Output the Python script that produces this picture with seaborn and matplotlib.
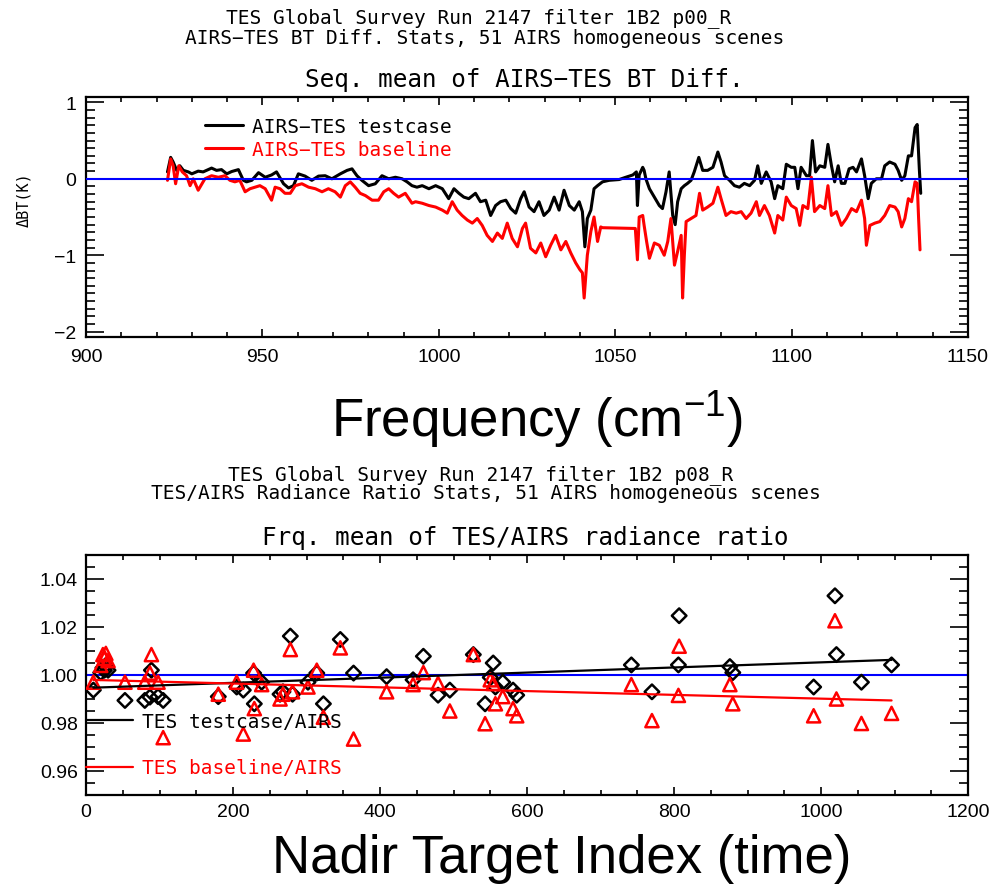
import matplotlib
matplotlib.use("Agg")
import matplotlib.pyplot as plt
from matplotlib.ticker import MultipleLocator, FormatStrFormatter
import numpy as np
import pandas as pd
import seaborn as sns

# ---------------- data: top panel (sequence mean of AIRS-TES BT diff) ----------------
freq_test = [923.1, 924.0, 924.7, 925.7, 926.6, 927.6, 929.0, 930.0, 931.8, 933.2,
             935.6, 937.0, 938.4, 939.9, 941.3, 943.2, 944.6, 945.5, 947.0, 948.9,
             950.8, 952.6, 954.0, 956.0, 957.4, 958.8, 960.2, 962.1, 964.0, 965.9,
             967.8, 969.7, 972.1, 974.0, 975.4, 976.8, 978.2, 980.1, 982.0, 983.9,
             985.8, 987.7, 989.6, 991.0, 992.4, 993.8, 995.3, 997.2, 999.1, 1001.0,
             1002.8, 1004.3, 1005.7, 1007.1, 1008.5, 1010.4, 1011.8, 1013.3, 1014.7, 1016.1,
             1017.5, 1019.0, 1020.4, 1021.8, 1023.2, 1024.2, 1025.6, 1027.0, 1028.4, 1029.8,
             1031.3, 1032.7, 1034.1, 1035.5, 1037.0, 1038.4, 1039.8, 1040.7, 1041.4, 1042.1,
             1043.1, 1044.0, 1045.0, 1046.4, 1048.3, 1051.1, 1053.0, 1055.0, 1056.0, 1056.3,
             1056.8, 1057.8, 1058.2, 1058.7, 1059.7, 1061.1, 1062.5, 1063.4, 1064.4, 1065.3,
             1066.3, 1067.0, 1067.7, 1068.7, 1069.6, 1070.5, 1071.5, 1072.4, 1073.7, 1074.8,
             1076.2, 1077.7, 1079.1, 1080.0, 1081.0, 1082.4, 1083.8, 1085.2, 1086.6, 1088.1,
             1089.5, 1090.4, 1091.4, 1092.8, 1094.2, 1095.2, 1096.1, 1097.5, 1098.5, 1099.9,
             1100.9, 1101.8, 1102.7, 1104.2, 1105.1, 1105.9, 1106.8, 1108.0, 1109.4, 1110.3,
             1111.3, 1112.2, 1113.2, 1114.1, 1115.1, 1116.3, 1117.4, 1118.4, 1119.8, 1120.7,
             1121.7, 1122.6, 1124.0, 1125.5, 1126.4, 1127.8, 1129.3, 1130.2, 1131.2, 1132.1,
             1133.1, 1134.0, 1135.0, 1135.6, 1136.2, 1136.6]
dbt_test = [0.09, 0.28, 0.22, 0.11, 0.17, 0.11, 0.09, 0.065, 0.10, 0.09,
            0.14, 0.11, 0.12, 0.065, 0.095, 0.12, -0.02, -0.04, -0.02, 0.08,
            0.02, 0.05, 0.09, -0.065, -0.12, -0.09, 0.065, 0.035, -0.02, 0.035,
            0.04, 0.0, 0.065, 0.11, 0.13, 0.04, -0.02, -0.09, -0.065, 0.04,
            0.0, 0.02, 0.0, -0.04, -0.09, -0.11, -0.09, -0.13, -0.09, -0.13,
            -0.26, -0.13, -0.19, -0.24, -0.26, -0.19, -0.30, -0.28, -0.48, -0.35,
            -0.30, -0.28, -0.39, -0.45, -0.26, -0.17, -0.37, -0.43, -0.30, -0.48,
            -0.41, -0.24, -0.41, -0.15, -0.35, -0.41, -0.30, -0.43, -0.89, -0.52,
            -0.41, -0.13, -0.09, -0.04, -0.02, -0.01, 0.02, 0.05, 0.09, -0.35,
            0.05, 0.15, 0.11, 0.0, -0.13, -0.24, -0.35, -0.39, -0.17, 0.09,
            -0.48, -0.60, -0.30, -0.13, -0.09, -0.06, -0.02, 0.09, 0.28, 0.11,
            0.11, 0.15, 0.35, 0.22, 0.04, -0.02, -0.09, -0.11, -0.06, -0.09,
            -0.02, 0.17, -0.06, 0.09, -0.04, -0.26, -0.09, -0.13, 0.19, 0.15,
            0.15, -0.13, 0.15, 0.04, 0.04, 0.50, 0.09, 0.17, 0.15, 0.45,
            0.17, -0.04, 0.17, -0.06, -0.06, 0.13, 0.15, 0.09, 0.26, 0.04,
            -0.26, -0.06, 0.0, 0.0, 0.17, 0.22, 0.19, 0.11, -0.02, 0.04,
            0.30, 0.30, 0.67, 0.71, 0.13, -0.19]

freq_base = [923.1, 924.0, 924.7, 925.4, 926.3, 927.3, 928.5, 929.5, 930.4, 931.8,
             933.7, 935.6, 937.5, 939.4, 940.8, 942.2, 943.6, 945.1, 946.5, 947.9,
             949.3, 950.8, 952.6, 953.6, 955.0, 956.4, 957.9, 959.3, 961.2, 963.1,
             965.0, 966.9, 968.7, 970.6, 972.1, 973.5, 974.9, 976.3, 977.7, 979.2,
             981.1, 982.9, 984.4, 985.8, 987.2, 988.6, 990.5, 992.4, 993.4, 995.3,
             997.2, 999.1, 1001.0, 1002.4, 1003.8, 1005.2, 1006.6, 1008.1, 1009.5, 1010.9,
             1012.3, 1013.7, 1015.2, 1016.6, 1018.0, 1019.4, 1020.8, 1022.3, 1023.7, 1024.6,
             1026.0, 1027.5, 1028.9, 1030.3, 1031.7, 1033.1, 1034.6, 1036.0, 1037.4, 1038.8,
             1040.0, 1040.7, 1041.2, 1042.1, 1043.1, 1044.0, 1045.0, 1045.9, 1046.4, 1055.7,
             1056.3, 1056.8, 1057.8, 1058.2, 1058.9, 1059.7, 1061.1, 1062.5, 1063.9, 1064.9,
             1065.8, 1066.8, 1067.7, 1068.7, 1069.1, 1069.6, 1070.1, 1071.5, 1072.9, 1073.9,
             1074.8, 1076.2, 1077.7, 1079.1, 1080.0, 1081.4, 1082.8, 1084.3, 1085.7, 1087.1,
             1088.5, 1090.0, 1090.9, 1092.3, 1093.7, 1095.2, 1096.1, 1097.5, 1098.5, 1099.9,
             1101.3, 1102.3, 1103.2, 1104.6, 1105.6, 1106.5, 1108.0, 1109.4, 1110.3, 1111.3,
             1112.7, 1114.1, 1115.5, 1117.0, 1118.4, 1119.8, 1120.7, 1121.2, 1122.2, 1123.6,
             1125.0, 1126.4, 1127.8, 1129.3, 1130.2, 1131.2, 1132.1, 1133.1, 1134.0, 1135.0,
             1135.6, 1136.0, 1136.4]
dbt_base = [-0.02, 0.26, 0.17, -0.065, 0.17, 0.09, 0.04, -0.09, 0.0, -0.15,
            0.0, 0.04, 0.02, 0.04, -0.02, -0.04, -0.02, -0.17, -0.13, -0.11,
            -0.09, -0.13, -0.28, -0.11, -0.13, -0.19, -0.19, -0.09, -0.065, -0.11,
            -0.13, -0.17, -0.13, -0.17, -0.24, -0.09, -0.04, -0.11, -0.19, -0.22,
            -0.28, -0.28, -0.17, -0.13, -0.19, -0.24, -0.19, -0.32, -0.30, -0.32,
            -0.35, -0.37, -0.41, -0.45, -0.30, -0.41, -0.48, -0.54, -0.58, -0.52,
            -0.61, -0.74, -0.82, -0.71, -0.78, -0.58, -0.78, -0.89, -0.65, -0.58,
            -0.91, -0.97, -0.84, -1.02, -0.87, -0.74, -0.93, -0.82, -0.97, -1.10,
            -1.19, -1.23, -1.56, -1.00, -0.69, -0.50, -0.82, -0.63, -0.64, -0.65,
            -1.06, -0.50, -0.48, -0.61, -0.82, -1.04, -0.84, -0.87, -1.00, -0.82,
            -0.52, -1.13, -0.95, -0.74, -1.56, -1.00, -0.56, -0.52, -0.48, -0.19,
            -0.41, -0.37, -0.32, -0.11, -0.26, -0.48, -0.43, -0.45, -0.43, -0.52,
            -0.45, -0.30, -0.48, -0.35, -0.48, -0.71, -0.48, -0.54, -0.24, -0.35,
            -0.39, -0.61, -0.35, -0.39, 0.02, -0.43, -0.35, -0.39, -0.09, -0.48,
            -0.43, -0.61, -0.52, -0.39, -0.43, -0.28, -0.52, -0.87, -0.61, -0.58,
            -0.56, -0.48, -0.35, -0.37, -0.43, -0.63, -0.52, -0.26, -0.30, -0.04,
            -0.06, -0.52, -0.93]

# ---------------- data: bottom panel (TES/AIRS radiance ratio per scene) ----------------
scene_idx = [10, 20, 23, 25, 27, 30, 53, 80, 87, 89,
             98, 105, 180, 205, 214, 228, 229, 239, 264, 268,
             278, 281, 302, 314, 323, 346, 364, 409, 445, 459,
             479, 495, 527, 543, 550, 554, 557, 567, 581, 586,
             742, 770, 806, 807, 876, 880, 990, 1019, 1021, 1055,
             1096]
ratio_test = [0.9937, 1.001, 1.003, 1.002, 1.004, 1.002, 0.9894, 0.9894, 0.9908, 1.002,
              0.991, 0.9894, 0.991, 0.995, 0.9937, 1.0008, 0.988, 0.997, 0.992, 0.993,
              1.0162, 0.992, 0.997, 1.0008, 0.988, 1.0148, 1.0008, 0.9993, 0.998, 1.0078,
              0.9916, 0.9937, 1.0085, 0.988, 0.999, 1.005, 0.995, 0.997, 0.9937, 0.9916,
              1.0042, 0.993, 1.0042, 1.0247, 1.0035, 1.001, 0.995, 1.033, 1.0085, 0.997,
              1.0042]
ratio_base = [0.997, 1.004, 1.0085, 1.007, 1.009, 1.006, 0.997, 0.997, 1.0008, 1.0085,
              0.997, 0.9739, 0.992, 0.997, 0.9754, 1.002, 0.986, 0.996, 0.990, 0.992,
              1.0106, 0.993, 0.995, 1.002, 0.9824, 1.0113, 0.9733, 0.993, 0.996, 1.001,
              0.9965, 0.985, 1.0085, 0.9797, 0.998, 0.9965, 0.988, 0.991, 0.986, 0.983,
              0.996, 0.981, 0.9915, 1.012, 0.996, 0.988, 0.983, 1.0226, 0.990, 0.9798,
              0.984]

top_xticks = [900, 950, 1000, 1050, 1100, 1150]
top_yticks = [-2, -1, 0, 1]
bot_xticks = [0, 200, 400, 600, 800, 1000, 1200]
bot_yticks = [0.96, 0.98, 1.00, 1.02, 1.04]

# ---------------- style ----------------
sns.set_style("ticks")
plt.rcParams['font.family'] = ['Liberation Sans', 'DejaVu Sans']
plt.rcParams['mathtext.fontset'] = 'custom'
plt.rcParams['mathtext.rm'] = 'Liberation Sans'
plt.rcParams['mathtext.default'] = 'regular'
plt.rcParams['text.color'] = 'black'
plt.rcParams['axes.labelcolor'] = 'black'
MONO = ['DejaVu Sans Mono', 'DejaVu Sans']

W, H = 998, 895
fig = plt.figure(figsize=(W / 100, H / 100), dpi=100)
fig.patch.set_facecolor('white')


def axbox(l, t, r, b):
    return [l / W, 1 - b / H, (r - l) / W, (b - t) / H]


ax1 = fig.add_axes(axbox(86, 98, 968, 338))
ax2 = fig.add_axes(axbox(86, 556, 968, 796))

# ---------------- top panel ----------------
df_t = pd.DataFrame({'freq': freq_test, 'dbt': dbt_test})
df_b = pd.DataFrame({'freq': freq_base, 'dbt': dbt_base})
sns.lineplot(data=df_t, x='freq', y='dbt', ax=ax1, color='black', lw=2.2,
             estimator=None, sort=False, label='AIRS\u2212TES testcase')
sns.lineplot(data=df_b, x='freq', y='dbt', ax=ax1, color='red', lw=2.2,
             estimator=None, sort=False, label='AIRS\u2212TES baseline')
ax1.axhline(0, color='blue', lw=1.5, zorder=5)

ax1.set_xlim(900, 1150)
ax1.set_ylim(-2.07, 1.07)
ax1.set_xticks(top_xticks)
ax1.set_yticks(top_yticks)
ax1.xaxis.set_minor_locator(MultipleLocator(10))
ax1.yaxis.set_minor_locator(MultipleLocator(0.1))

ax1.set_xlabel('Frequency (cm$^{-1}$)', fontsize=38, color='black')
ax1.xaxis.set_label_coords(0.511, -0.215)
ax1.set_ylabel('\u0394BT(K)', family=MONO, fontsize=11, color='black')
ax1.yaxis.set_label_coords(-0.062, 0.575)

leg1 = ax1.legend(loc='upper left', bbox_to_anchor=(0.135, 0.918), frameon=False,
                  prop={'family': MONO, 'size': 14}, handlelength=1.95,
                  handletextpad=0.46, labelspacing=0.2, borderpad=0,
                  borderaxespad=0, labelcolor='linecolor')

# ---------------- bottom panel ----------------
df_s = pd.DataFrame({'scene': scene_idx, 'test': ratio_test, 'base': ratio_base})
sns.scatterplot(data=df_s, x='scene', y='test', ax=ax2, marker='D', s=55,
                color='black', linewidth=1.8, zorder=3)
ax2.collections[-1].set_facecolor('none')
ax2.collections[-1].set_edgecolor('black')
sns.scatterplot(data=df_s, x='scene', y='base', ax=ax2, marker='^', s=90,
                color='red', linewidth=1.8, zorder=4)
ax2.collections[-1].set_facecolor('none')
ax2.collections[-1].set_edgecolor('red')

sns.regplot(data=df_s, x='scene', y='test', ax=ax2, scatter=False, ci=None,
            truncate=True, color='black', line_kws={'lw': 1.6, 'zorder': 5},
            label='TES testcase/AIRS')
sns.regplot(data=df_s, x='scene', y='base', ax=ax2, scatter=False, ci=None,
            truncate=True, color='red', line_kws={'lw': 1.6, 'zorder': 5},
            label='TES baseline/AIRS')
ax2.axhline(1.0, color='blue', lw=1.5, zorder=2)

ax2.set_xlim(0, 1200)
ax2.set_ylim(0.95, 1.05)
ax2.set_xticks(bot_xticks)
ax2.set_yticks(bot_yticks)
ax2.yaxis.set_major_formatter(FormatStrFormatter('%.2f'))
ax2.xaxis.set_minor_locator(MultipleLocator(50))
ax2.yaxis.set_minor_locator(MultipleLocator(0.005))
ax2.set_ylabel('')
ax2.set_xlabel('Nadir Target Index (time)', fontsize=38, color='black')
ax2.xaxis.set_label_coords(0.539, -0.16)

h, l = ax2.get_legend_handles_labels()
keep = [i for i, lab in enumerate(l) if lab in ('TES testcase/AIRS', 'TES baseline/AIRS')]
leg2 = ax2.legend([h[i] for i in keep], [l[i] for i in keep], loc='upper left',
                  bbox_to_anchor=(0.0, 0.345), frameon=False,
                  prop={'family': MONO, 'size': 14}, handlelength=2.4,
                  handletextpad=0.46, labelspacing=1.4, borderpad=0,
                  borderaxespad=0, labelcolor='linecolor')
leg2.set_zorder(6)

# ---------------- common axis styling ----------------
for ax, ypad, xpad in ((ax1, 7, 8), (ax2, 6, 6)):
    for sp in ax.spines.values():
        sp.set_visible(True)
        sp.set_color('black')
        sp.set_linewidth(1.6)
    ax.tick_params(which='both', direction='in', top=True, right=True,
                   color='black', width=1.2, labelsize=14, labelcolor='black')
    ax.tick_params(axis='x', which='major', length=5.5, pad=xpad)
    ax.tick_params(axis='x', which='minor', length=3.5)
    ax.tick_params(axis='y', which='major', length=13, pad=ypad)
    ax.tick_params(axis='y', which='minor', length=6.5)
    ax.grid(False)

# ---------------- titles ----------------
def ftext(x, y, s, size):
    fig.text(x / W, 1 - y / H, s, ha='center', va='center', family=MONO,
             fontsize=size, color='black')


ftext(479, 18, 'TES Global Survey Run 2147 filter 1B2 p00_R', 14)
ftext(485, 38, 'AIRS\u2212TES BT Diff. Stats, 51 AIRS homogeneous scenes', 14)
ftext(524, 80, 'Seq. mean of AIRS\u2212TES BT Diff.', 17.5)
ftext(481, 475, 'TES Global Survey Run 2147 filter 1B2 p08_R', 14)
ftext(486, 494, 'TES/AIRS Radiance Ratio Stats, 51 AIRS homogeneous scenes', 14)
ftext(525, 538, 'Frq. mean of TES/AIRS radiance ratio', 17.5)

fig.savefig('out.png', dpi=100, facecolor='white')
